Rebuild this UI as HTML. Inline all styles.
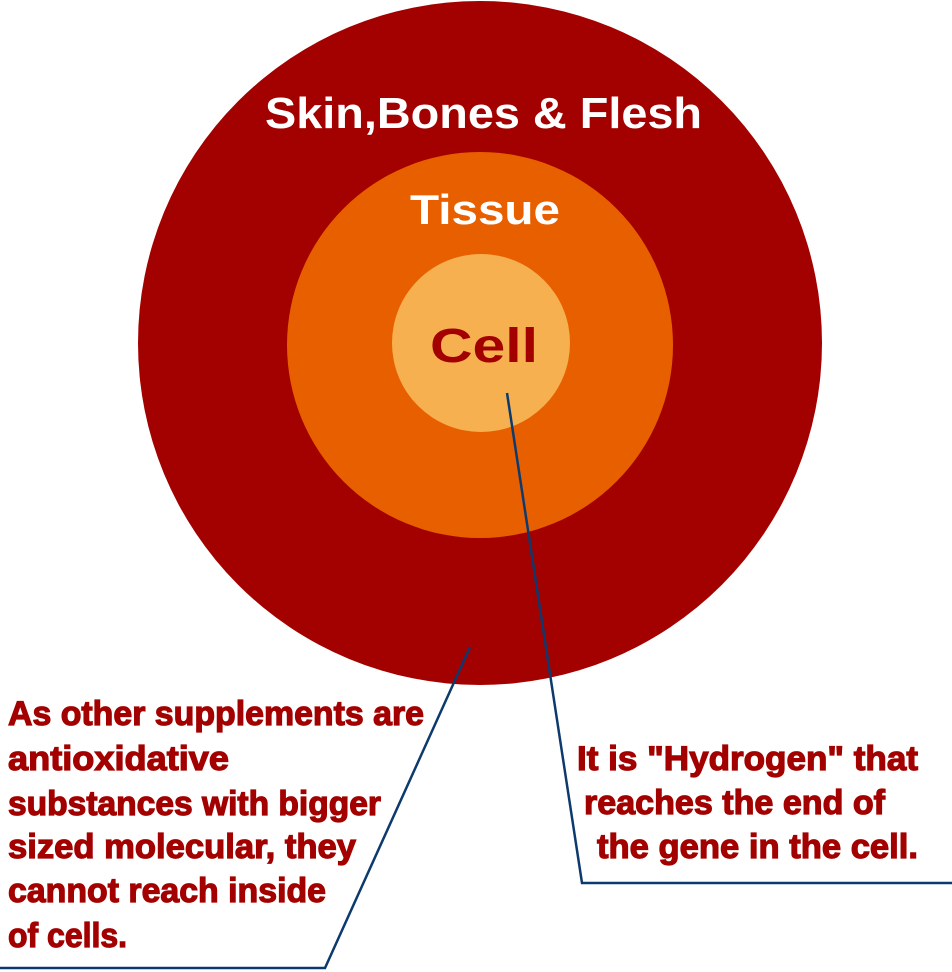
<!DOCTYPE html>
<html><head><meta charset="utf-8"><style>html,body{margin:0;padding:0;background:#fff}svg{display:block}</style></head>
<body>
<svg width="952" height="972" viewBox="0 0 952 972" xmlns="http://www.w3.org/2000/svg">
<circle cx="480" cy="343" r="342" fill="#a30000"/>
<circle cx="480" cy="345" r="193" fill="#e85f00"/>
<circle cx="481" cy="343" r="89" fill="#f7b04f"/>
<g font-family="Liberation Sans, sans-serif" font-weight="bold">
<text x="265" y="128" font-size="44" fill="#fff" textLength="437" lengthAdjust="spacingAndGlyphs">Skin,Bones &amp; Flesh</text>
<text x="410" y="224" font-size="42" fill="#fff" textLength="150" lengthAdjust="spacingAndGlyphs">Tissue</text>
<text x="430" y="362" font-size="48" fill="#a30000" textLength="108" lengthAdjust="spacingAndGlyphs">Cell</text>
</g>
<g fill="none" stroke="#0d3a6e" stroke-width="2.5">
<polyline points="507,393 582,883 952,883"/>
<polyline points="470,647 325,968 0,968"/>
</g>
<g font-family="Liberation Sans, sans-serif" font-weight="bold" font-size="34" fill="#a30000" stroke="#a30000" stroke-width="1.2">
<text x="8" y="725" textLength="416" lengthAdjust="spacingAndGlyphs">As other supplements are</text>
<text x="8" y="770" textLength="221" lengthAdjust="spacingAndGlyphs">antioxidative</text>
<text x="8" y="815" textLength="373" lengthAdjust="spacingAndGlyphs">substances with bigger</text>
<text x="8" y="858" textLength="348" lengthAdjust="spacingAndGlyphs">sized molecular, they</text>
<text x="8" y="902" textLength="318" lengthAdjust="spacingAndGlyphs">cannot reach inside</text>
<text x="8" y="947" textLength="119" lengthAdjust="spacingAndGlyphs">of cells.</text>
<text x="577" y="770" textLength="341" lengthAdjust="spacingAndGlyphs">It is "Hydrogen" that</text>
<text x="584" y="814" textLength="301" lengthAdjust="spacingAndGlyphs">reaches the end of</text>
<text x="597" y="858" textLength="321" lengthAdjust="spacingAndGlyphs">the gene in the cell.</text>
</g>
</svg>
</body></html>
